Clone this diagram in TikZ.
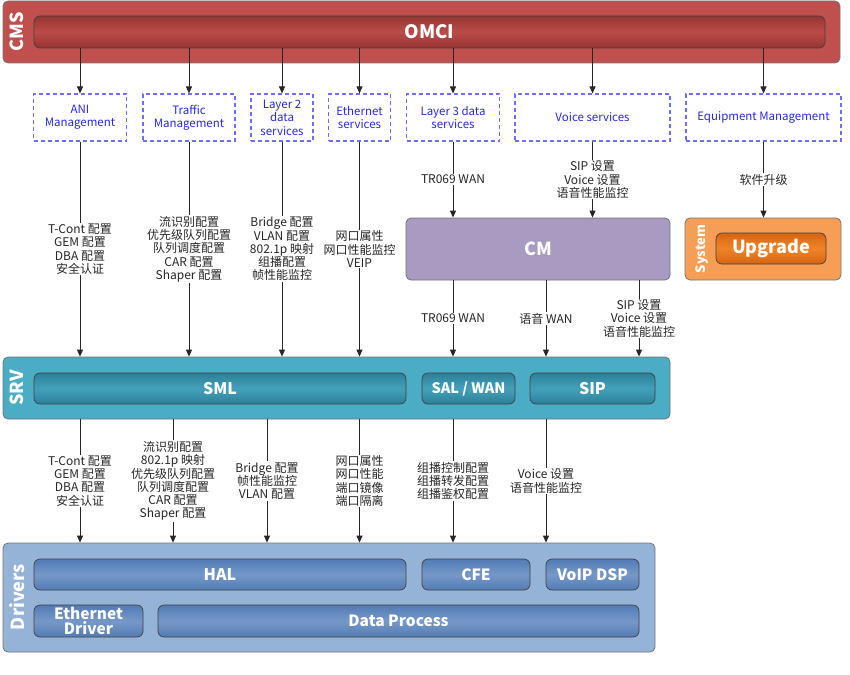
\documentclass[tikz,border=0pt]{standalone}
\usepackage{fontspec}
\setmainfont{Noto Sans CJK SC}
\usetikzlibrary{arrows.meta}

\definecolor{cmsred}{RGB}{192,80,77}
\definecolor{omcidark}{RGB}{150,52,50}
\definecolor{omcimid}{RGB}{186,76,73}
\definecolor{cmpurple}{RGB}{168,154,192}
\definecolor{sysorange}{RGB}{246,158,86}
\definecolor{upgdark}{RGB}{214,100,16}
\definecolor{upgmid}{RGB}{240,132,40}
\definecolor{srvblue}{RGB}{75,172,198}
\definecolor{smldark}{RGB}{44,128,152}
\definecolor{smlmid}{RGB}{68,160,186}
\definecolor{drvblue}{RGB}{149,179,215}
\definecolor{haldark}{RGB}{82,124,180}
\definecolor{halmid}{RGB}{118,152,200}
\definecolor{dashblue}{RGB}{110,110,250}
\definecolor{textblue}{RGB}{40,40,230}

\begin{document}
\begin{tikzpicture}[x=1pt,y=-1pt,
    >={Triangle[length=7pt,width=6pt]},
    layer/.style ={draw=black!55, line width=0.8pt, rounded corners=5pt, inner sep=0pt},
    bar/.style ={draw=black!75, line width=0.7pt, rounded corners=6pt, inner sep=0pt,
                 text=white, font=\bfseries\fontsize{16}{17}\selectfont, align=center},
    omcibar/.style ={bar, top color=omcidark, bottom color=omcidark, middle color=omcimid},
    upgbar/.style ={bar, top color=upgdark, bottom color=upgdark, middle color=upgmid},
    smlbar/.style ={bar, top color=smldark, bottom color=smldark, middle color=smlmid},
    halbar/.style ={bar, top color=haldark, bottom color=haldark, middle color=halmid},
    service/.style ={draw=dashblue, dashed, dash pattern=on 4pt off 3pt, line width=1.1pt,
                     text=textblue, align=center, inner sep=0pt,
                     font=\fontsize{11.5}{13.4}\selectfont},
    side/.style ={rotate=90, text=white, font=\bfseries\fontsize{18}{19}\selectfont},
    flow/.style ={->, line width=0.9pt, black!85},
    note/.style ={fill=white, align=center, inner sep=1pt, text=black!85,
                  font=\fontsize{12}{13.3}\selectfont}]
   \useasboundingbox (0,0) rectangle (850,674);

   % CMS layer
   \node[layer, fill=cmsred, minimum width=837, minimum height=62] (cms) at (421.5,32) {};
   \node[side] (cmstitle) at (17,32) {CMS};
   \node[omcibar, minimum width=791, minimum height=32, font=\bfseries\fontsize{18.5}{19}\selectfont] (omci) at (429.5,32) {OMCI};

   % management entities
   \node[service, minimum width=93, minimum height=47] (ani) at (80,117.5) {ANI\\Management};
   \node[service, minimum width=92, minimum height=47] (traffic) at (189,117.5) {Traffic\\Management};
   \node[service, minimum width=62, minimum height=47] (l2) at (282,117.5) {Layer 2\\data\\services};
   \node[service, minimum width=62, minimum height=47] (eth) at (359.5,117.5) {Ethernet\\services};
   \node[service, minimum width=93, minimum height=47] (l3) at (453,117.5) {Layer 3 data\\services};
   \node[service, minimum width=155, minimum height=47] (voice) at (592.5,117.5) {Voice services};
   \node[service, minimum width=155, minimum height=47] (equip) at (763.5,117.5) {Equipment Management};

   \foreach \s in {ani,traffic,l2,eth,l3,voice,equip}
      \draw[flow] (omci.south -| \s) -- (\s.north);

   % CM and System
   \node[layer, fill=cmpurple, minimum width=264, minimum height=62, text=white,
         font=\bfseries\fontsize{18}{19}\selectfont] (cm) at (538,249) {CM};
   \node[layer, fill=sysorange, minimum width=156, minimum height=62] (system) at (763,249) {};
   \node[side, font=\bfseries\fontsize{13}{14}\selectfont] (systitle) at (702,249) {System};
   \node[upgbar, minimum width=110, minimum height=31, font=\bfseries\fontsize{18}{19}\selectfont] (upgrade) at (771,248.5) {Upgrade};

   % SRV layer
   \node[layer, fill=srvblue, minimum width=667, minimum height=62] (srv) at (336.5,388) {};
   \node[side] (srvtitle) at (17,388) {SRV};
   \node[smlbar, minimum width=372, minimum height=31] (sml) at (220,388.5) {SML};
   \node[smlbar, minimum width=93, minimum height=31, font=\bfseries\fontsize{14.5}{15}\selectfont] (salwan) at (468.5,388.5) {SAL / WAN};
   \node[smlbar, minimum width=125, minimum height=31] (sip) at (592.5,388.5) {SIP};

   % Drivers layer
   \node[layer, fill=drvblue, minimum width=652, minimum height=109] (drivers) at (329,597.5) {};
   \node[side] (drvtitle) at (17,597) {Drivers};
   \node[halbar, minimum width=372, minimum height=31] (hal) at (220,574.5) {HAL};
   \node[halbar, minimum width=108, minimum height=31, font=\bfseries\fontsize{15.5}{16}\selectfont] (cfe) at (476,574.5) {CFE};
   \node[halbar, minimum width=93, minimum height=31, font=\bfseries\fontsize{15.5}{16}\selectfont] (voip) at (592.5,574.5) {VoIP DSP};
   \node[halbar, minimum width=109, minimum height=32, font=\bfseries\fontsize{15.5}{15.5}\selectfont] (ethdrv) at (88.5,621) {Ethernet\\Driver};
   \node[halbar, minimum width=481, minimum height=32, font=\bfseries\fontsize{15.5}{16}\selectfont] (dataproc) at (398.5,621) {Data Process};

   % columns without a node above
   \coordinate (cvoice) at (546,0);
   \coordinate (csip) at (639,0);
   \coordinate (ctraf) at (173,0);
   \coordinate (cbridge) at (267,0);

   % management -> SRV / CM / System
   \draw[flow] (ani) -- node[note] {T-Cont 配置\\GEM 配置\\DBA 配置\\安全认证} (srv.north -| ani);
   \draw[flow] (traffic) -- node[note] {流识别配置\\优先级队列配置\\队列调度配置\\CAR 配置\\Shaper 配置} (srv.north -| traffic);
   \draw[flow] (l2) -- node[note] {Bridge 配置\\VLAN 配置\\802.1p 映射\\组播配置\\帧性能监控} (srv.north -| l2);
   \draw[flow] (eth) -- node[note] {网口属性\\网口性能监控\\VEIP} (srv.north -| eth);
   \draw[flow] (l3) -- node[note] {TR069 WAN} (cm.north -| l3);
   \draw[flow] (voice) -- node[note] {SIP 设置\\Voice 设置\\语音性能监控} (cm.north -| voice);
   \draw[flow] (equip) -- node[note] {软件升级} (system.north -| equip);

   % CM -> SRV
   \draw[flow] (cm.south -| l3) -- node[note] {TR069 WAN} (srv.north -| l3);
   \draw[flow] (cm.south -| cvoice) -- node[note] {语音 WAN} (srv.north -| cvoice);
   \draw[flow] (cm.south -| csip) -- node[note] {SIP 设置\\Voice 设置\\语音性能监控} (srv.north -| csip);

   % SRV -> Drivers
   \draw[flow] (srv.south -| ani) -- node[note] {T-Cont 配置\\GEM 配置\\DBA 配置\\安全认证} (drivers.north -| ani);
   \draw[flow] (srv.south -| ctraf) -- node[note] {流识别配置\\802.1p 映射\\优先级队列配置\\队列调度配置\\CAR 配置\\Shaper 配置} (drivers.north -| ctraf);
   \draw[flow] (srv.south -| cbridge) -- node[note] {Bridge 配置\\帧性能监控\\VLAN 配置} (drivers.north -| cbridge);
   \draw[flow] (srv.south -| eth) -- node[note] {网口属性\\网口性能\\端口镜像\\端口隔离} (drivers.north -| eth);
   \draw[flow] (srv.south -| l3) -- node[note] {组播控制配置\\组播转发配置\\组播鉴权配置} (drivers.north -| l3);
   \draw[flow] (srv.south -| cvoice) -- node[note] {Voice 设置\\语音性能监控} (drivers.north -| cvoice);
\end{tikzpicture}
\end{document}
